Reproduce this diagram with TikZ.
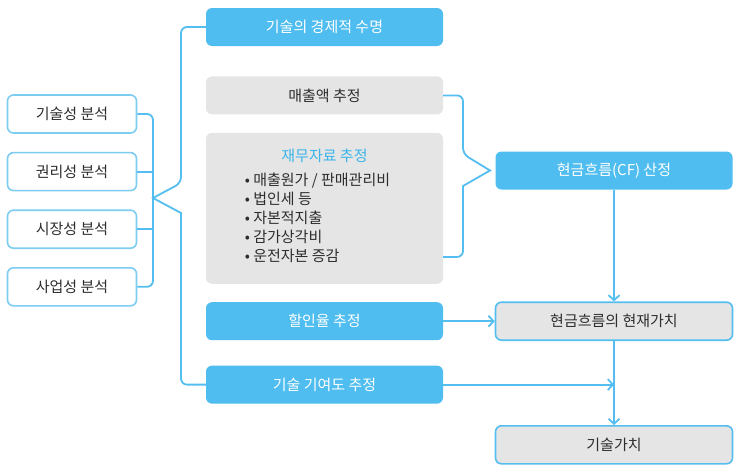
\documentclass[tikz,border=0pt]{standalone}
\usepackage{xcolor}
\usepackage{fontspec}
\usepackage{tikz}
\usetikzlibrary{positioning, arrows.meta}

\newfontfamily\krfont{Noto Sans CJK KR}

\definecolor{skyblue}{RGB}{79,189,239}
\definecolor{linkblue}{RGB}{84,190,240}
\definecolor{paleblue}{RGB}{125,205,243}
\definecolor{boxgray}{RGB}{229,229,229}
\definecolor{titleblue}{RGB}{58,180,234}
\definecolor{inkgray}{RGB}{45,45,45}

\tikzset{
	base/.style={rounded corners=6pt, minimum height=38pt, inner sep=0pt, font=\krfont\fontsize{15}{19}\selectfont},
	bluebox/.style={base, fill=skyblue, text=white, minimum width=237pt},
	graybox/.style={base, fill=boxgray, text=inkgray, minimum width=237pt},
	resultbox/.style={base, fill=boxgray, draw=linkblue, line width=1.6pt, text=inkgray, minimum width=237pt},
	itembox/.style={base, fill=white, draw=paleblue, line width=1.6pt, text=inkgray, minimum width=129pt},
	link/.style={draw=linkblue, line width=1.8pt, rounded corners=6pt},
	flow/.style={link, -{Straight Barb[length=5pt,width=11pt]}}
}

\begin{document}
\begin{tikzpicture}[x=1pt, y=-1pt]

	\useasboundingbox (0,0) rectangle (743,471);

	\node[bluebox] (life) at (324.5,27) {기술의 경제적 수명};
	\node[graybox] (sales) [below=30pt of life] {매출액 추정};
	\node[graybox, minimum height=151pt, align=center] (fin) [below=18pt of sales] {{\color{titleblue}재무자료 추정}\\[8pt]
		\begin{tabular}{@{}l@{}}
		• 매출원가 / 판매관리비\\
		• 법인세 등\\
		• 자본적지출\\
		• 감가상각비\\
		• 운전자본 증감
		\end{tabular}\hspace*{14pt}};
	\node[bluebox] (disc) [below=18pt of fin] {할인율 추정};
	\node[bluebox] (contrib) [below=25pt of disc] {기술 기여도 추정};

	\node[itembox] (techan) at (72,114) {기술성 분석};
	\node[itembox] (rightan) [below=18pt of techan] {권리성 분석};
	\node[itembox] (marketan) [below=18pt of rightan] {시장성 분석};
	\node[itembox] (bizan) [below=18pt of marketan] {사업성 분석};

	\node[bluebox] (cf) at (614,170.5) {현금흐름(CF) 산정};
	\node[resultbox] (pv) at (cf |- disc) {현금흐름의 현재가치};
	\node[resultbox] (value) [below=84pt of pv] {기술가치};

	\coordinate (lspine) at (153,198);
	\coordinate (notchtop) at (181,183);
	\coordinate (notchbot) at (181,213);
	\coordinate (rtop) at (463,154);
	\coordinate (rtip) at (490,170.5);
	\coordinate (rbot) at (463,186);

	\draw[link] (techan.east) -| (lspine) |- (bizan.east);
	\draw[link] (rightan.east) -- (rightan.east -| lspine);
	\draw[link] (marketan.east) -- (marketan.east -| lspine);
	\draw[link] (life.west) -| (notchtop) [sharp corners] -- (lspine) -- (notchbot) [rounded corners=6pt] |- (contrib.west);
	\draw[link] (sales.east) -| (rtop) [sharp corners] -- (rtip) -- (rbot) [rounded corners=6pt] |- ([yshift=27pt]fin.south east);

	\draw[flow] (cf) -- (pv);
	\draw[flow] (disc) -- (pv);
	\draw[flow] (pv) -- (value);
	\draw[flow] (contrib) -- (contrib -| pv);

\end{tikzpicture}
\end{document}
